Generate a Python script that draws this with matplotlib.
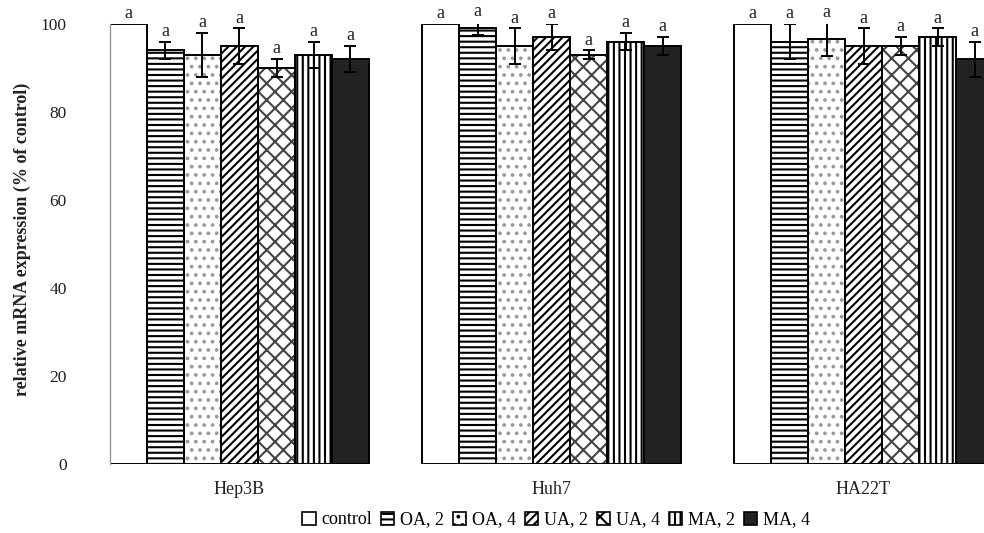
import numpy as np
import matplotlib
matplotlib.use("Agg")
import matplotlib.pyplot as plt

plt.rcParams['font.family'] = ['Liberation Serif', 'DejaVu Serif']
plt.rcParams['hatch.linewidth'] = 1.5

# ---------------------- DATA ----------------------------
cells = ["Hep3B", "Huh7", "HA22T"]
treatments = ["control", "OA, 2", "OA, 4", "UA, 2", "UA, 4", "MA, 2", "MA, 4"]

hep3b = [100, 94, 93, 95, 90, 93, 92]
huh7 = [100, 99, 95, 97, 93, 96, 95]
ha22t = [100, 96, 96.5, 95, 95, 97, 92]

hep3b_err = [0, 2, 5, 4, 2, 3, 3]
huh7_err = [0, 1.5, 4, 3, 1, 2, 2]
ha22t_err = [0, 4, 3.8, 4, 2, 2, 4]

letters = ["a"] * 7

values = np.array([hep3b, huh7, ha22t])
errors = np.array([hep3b_err, huh7_err, ha22t_err])

# hatch / fill per treatment
hatches = [None, '---', '..', '////', 'xx', '|||', None]
hatch_cols = ['black', 'black', '#9a9a9a', 'black', '#444444', 'black', 'black']
fills = ['white', 'white', 'white', 'white', 'white', 'white', '#222222']

# ---------------------- PLOT ----------------------------
W, H = 984, 533
fig = plt.figure(figsize=(W / 100, H / 100), dpi=100)

bw = 37 / 312          # bar width in group units
x0 = -3.5 * bw
xmax = 2.5
ax_w = (xmax - x0) * 312 / W
ax = fig.add_axes([110 / W, (H - 464) / H, ax_w, 440 / H])

x = np.arange(len(cells))
handles = []
for i, t in enumerate(treatments):
    pos = x + (i - 3) * bw
    # hatch layer (own colour), then outline on top
    ax.bar(pos, values[:, i], width=bw, color=fills[i], edgecolor=hatch_cols[i],
           hatch=hatches[i], linewidth=0, zorder=2)
    ax.bar(pos, values[:, i], width=bw, color='none', edgecolor='black',
           linewidth=1.4, zorder=2.5)
    handles.append(plt.Rectangle((0, 0), 1, 1, facecolor=fills[i],
                                 edgecolor='black', hatch=hatches[i], linewidth=1.2))
    m = errors[:, i] > 0
    ax.errorbar(pos[m], values[m, i], yerr=errors[m, i], fmt='none', ecolor='black',
                elinewidth=1.4, capsize=4, capthick=1.4, zorder=3)
    for j in range(len(cells)):
        top = values[j, i] + errors[j, i]
        ax.text(pos[j], top + 1.3, letters[i], ha='center', va='baseline',
                fontsize=13, color='#222222', clip_on=False)

ax.set_xlim(x0, xmax)
ax.set_ylim(0, 100)
ax.set_yticks(np.arange(0, 101, 20))
ax.set_xticks(x)
ax.set_xticklabels(cells)
ax.tick_params(axis='y', length=0, pad=31, labelsize=12.5, labelcolor='#222222')
ax.tick_params(axis='x', length=0, pad=12, labelsize=13, labelcolor='#222222')
for s in ['top', 'right', 'bottom']:
    ax.spines[s].set_visible(False)
ax.spines['left'].set_color('#999999')
ax.spines['left'].set_linewidth(1)

fig.text(22 / W, 1 - 239 / H, "relative mRNA expression (% of control)",
         rotation=90, ha='center', va='center', fontsize=13,
         fontweight='bold', color='#222222')

fig.legend(handles, treatments, loc='center', bbox_to_anchor=(556 / W, 1 - 520 / H),
           ncol=7, frameon=False, fontsize=13, handlelength=0.75, handleheight=0.75,
           handletextpad=0.3, columnspacing=0.5, borderpad=0)

fig.savefig("out.png", dpi=100)
